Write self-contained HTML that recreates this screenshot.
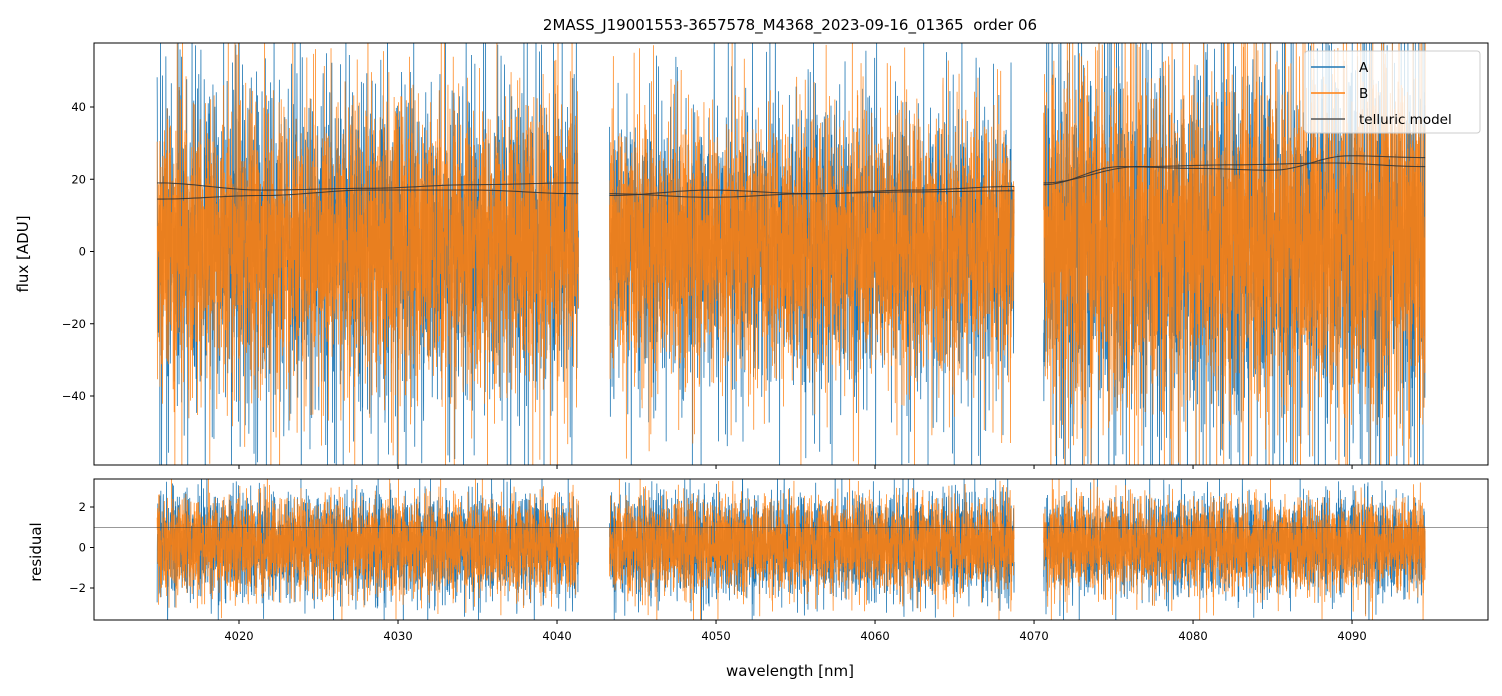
<!DOCTYPE html>
<html><head><meta charset="utf-8"><style>
body{margin:0;background:#fff}
svg{display:block;font-family:"DejaVu Sans","Liberation Sans",sans-serif}
</style></head><body>
<svg id="c" width="1502" height="696"></svg>
<script>
const segments=[[4014.85,4041.35],[4043.3,4068.75],[4070.6,4094.6]];
const noiseTable=[0.3,-1.2,0.8,2.1,-0.4,-1.9,1.1,0.2,-0.7,2.9,-2.4,0.6,1.5,-1.1,-0.2,0.9,-2.8,1.7,0.1,-0.9,
1.3,-1.6,2.4,-0.3,0.5,-1.4,3.4,-0.8,0.7,-2.1,1.9,0.4,-1.0,-0.1,2.2,-2.6,1.0,-0.5,0.8,-1.7,
0.0,1.6,-3.1,0.9,-0.6,1.2,-1.3,2.6,-0.2,0.3,-2.0,1.4,0.6,-1.5,2.0,-0.4,-2.9,1.8,0.2,-0.8,
1.1,-1.2,3.0,-0.7,0.4,-1.8,0.9,1.7,-2.3,0.5,-0.3,2.3,-1.1,0.1,-2.5,1.5,0.7,-0.9,2.8,-1.6,
0.2,-0.4,1.3,-2.2,0.6,1.9,-1.0,-0.2,2.5,-3.3,0.8,0.0,-1.4,1.2,-0.6,2.0,-1.9,0.4,1.0,-0.5,0.7];
const spikeTable=[0,0,0,1.8,0,0,0,0,-2.2,0,0,0,0,0,2.6,0,0,0,0,-1.5,0,0,0,3.2,0,0,0,0,0,-2.9,0,0,1.4,0,0,0,0,0,0,-3.5,0,0,0,2.0,0,0,0,0,0,0,-1.7,0,0,0,0,2.4,0,0,0,0,0];
const ampA=[12,11,15];
const ampB=[13,12,16];
const spikeA=[14,12,17];
const spikeB=[11,10,14];
const resAmp=[0.85,0.85,0.8];
const tellA=[[19,17,17.5,18.5,19],[16,15,16,17,18],[18.5,23.5,23,22.5,26.5,26]];
const tellB=[[14.5,15.5,17,17,16],[15.5,17,16,16.5,16.8],[19,23.5,24,24.5,23.5]];
const xTicks=[4020,4030,4040,4050,4060,4070,4080,4090];
const yTicksTop=[-40,-20,0,20,40];
const yTicksBot=[-2,0,2];

const S=document.getElementById('c');const NS='http://www.w3.org/2000/svg';
function mk(t,a,p){const e=document.createElementNS(NS,t);for(const k in a)e.setAttribute(k,a[k]);(p||S).appendChild(e);return e;}
const X=v=>94+(v-4010.88)*(1394/87.67);
const YT=v=>251.5-v*3.6125;
const YB=v=>547.5-v*20.25;
const T={x:94,y:43,w:1394,h:422},B={x:94,y:479,w:1394,h:141};
const cp=mk('defs',{});
const c1=mk('clipPath',{id:'ct'},cp);mk('rect',{x:T.x,y:T.y,width:T.w,height:T.h},c1);
const c2=mk('clipPath',{id:'cb'},cp);mk('rect',{x:B.x,y:B.y,width:B.w,height:B.h},c2);
const gT=mk('g',{'clip-path':'url(#ct)'});const gB=mk('g',{'clip-path':'url(#cb)'});
const NT=noiseTable.length,SP=spikeTable.length;
function series(si,amp,sp,yf,off,color,g,name,op){
  const [a,b]=segments[si];let d='';const n=Math.round((b-a)/0.009);
  for(let i=0;i<=n;i++){const w=a+(b-a)*i/n;
    const v=amp*0.6*(noiseTable[(i*7+off)%NT]+noiseTable[(i*3+off*2)%89])+sp*spikeTable[(i*11+off)%SP];
    d+=(i?'L':'M')+X(w).toFixed(2)+' '+yf(v).toFixed(1);}
  const p=mk('path',{d:d,fill:'none',stroke:color,'stroke-width':0.8,opacity:op||1},g);
  
  
}
function tell(si,vals,g,name){
  const [a,b]=segments[si];const n=80;let d='';
  for(let i=0;i<=n;i++){const t=i/n*(vals.length-1);const k=Math.min(Math.floor(t),vals.length-2);const f=t-k;
    const s=(1-Math.cos(f*Math.PI))/2;const v=vals[k]*(1-s)+vals[k+1]*s;
    d+=(i?'L':'M')+X(a+(b-a)*i/n).toFixed(1)+' '+YT(v).toFixed(1);}
  const p=mk('path',{d:d,fill:'none',stroke:'#333','stroke-width':1.1,opacity:0.85},g);
  
  
}
for(let s=0;s<3;s++)series(s,ampA[s],spikeA[s],YT,3+s*11,'#1f77b4',gT,'flux-a-seg'+s);
for(let s=0;s<3;s++)series(s,ampB[s],spikeB[s],YT,17+s*5,'#ff7f0e',gT,'flux-b-seg'+s,0.9);
for(let s=0;s<3;s++){tell(s,tellA[s],gT,'telluric-a-seg'+s);tell(s,tellB[s],gT,'telluric-b-seg'+s);}
for(let s=0;s<3;s++)series(s,resAmp[s],0.6,YB,29+s*3,'#1f77b4',gB,'residual-a-seg'+s);
for(let s=0;s<3;s++)series(s,resAmp[s],0.5,YB,41+s*7,'#ff7f0e',gB,'residual-b-seg'+s,0.9);
const hl=mk('line',{x1:B.x,x2:B.x+B.w,y1:YB(1),y2:YB(1),stroke:'#333','stroke-width':0.6});

for(const R of [T,B]){const r=mk('rect',{x:R.x,y:R.y,width:R.w,height:R.h,fill:'none',stroke:'#000','stroke-width':1});
}
function txt(x,y,s,size,anchor,rot,name){const t=mk('text',{x:x,y:y,'font-size':size,'text-anchor':anchor||'middle',fill:'#000'});
if(rot)t.setAttribute('transform','rotate(-90 '+x+' '+y+')');t.textContent=s;t.style.whiteSpace='pre';
return t;}
xTicks.forEach(v=>{const x=X(v);mk('line',{x1:x,x2:x,y1:465,y2:469,stroke:'#000'});mk('line',{x1:x,x2:x,y1:620,y2:624,stroke:'#000'});
txt(x,640,String(v),11.5,'middle',0,'x-tick-label');});
yTicksTop.forEach(v=>{const y=YT(v);mk('line',{x1:90,x2:94,y1:y,y2:y,stroke:'#000'});txt(86,y+4,String(v).replace('-','\u2212'),11.5,'end',0,'y-tick-label');});
yTicksBot.forEach(v=>{const y=YB(v);mk('line',{x1:90,x2:94,y1:y,y2:y,stroke:'#000'});txt(86,y+4,String(v).replace('-','\u2212'),11.5,'end',0,'residual-tick-label');});
txt(790,30,'2MASS_J19001553-3657578_M4368_2023-09-16_01365  order 06',15,'middle',0,'chart-title');
txt(790,676,'wavelength [nm]',15,'middle',0,'x-axis-title');
txt(28,254,'flux [ADU]',15,'middle',1,'y-axis-title');
txt(41,552,'residual',15,'middle',1,'residual-axis-title');
const lg=mk('g',{});
mk('rect',{x:1305,y:51,width:175,height:82,rx:3,fill:'#fff','fill-opacity':0.8,stroke:'#ccc'},lg);
[['A','#1f77b4',67],['B','#ff7f0e',93],['telluric model','#555',119]].forEach(([l,c,y])=>{
mk('line',{x1:1311,x2:1345,y1:y,y2:y,stroke:c,'stroke-width':1.5},lg);
const t=mk('text',{x:1359,y:y+5,'font-size':13.5},lg);t.textContent=l;
});
</script>
</body></html>
